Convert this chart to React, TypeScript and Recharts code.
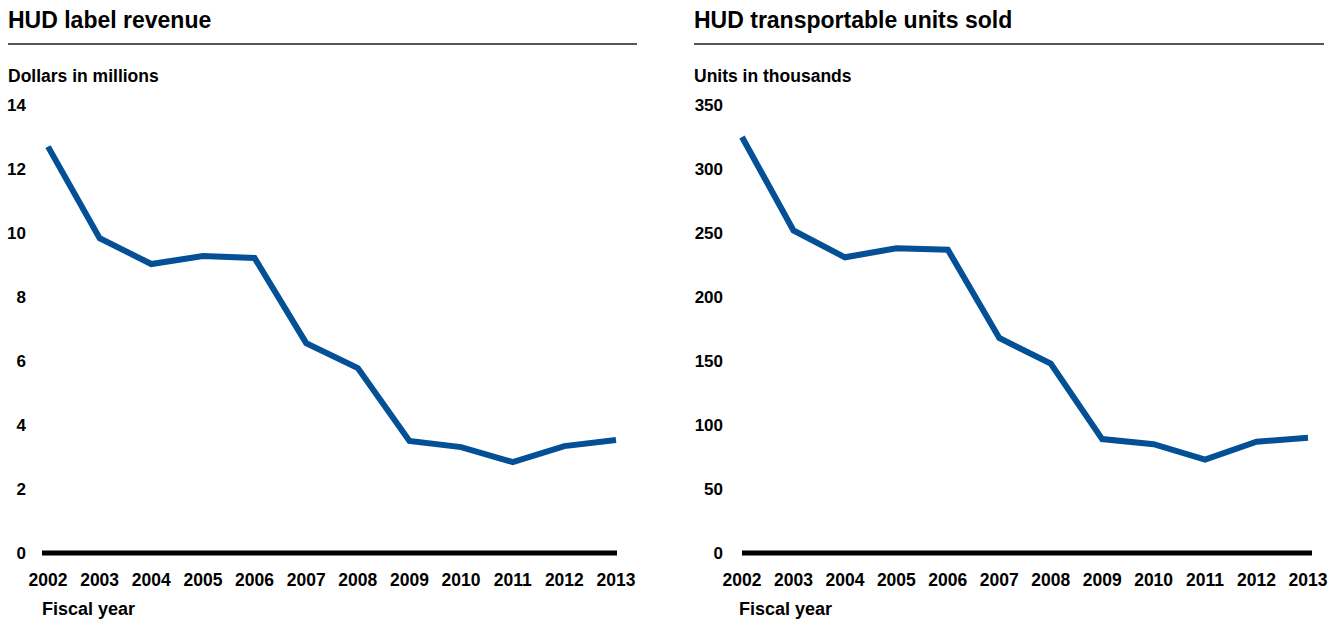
import { LineChart, Line, XAxis, YAxis } from "recharts";

// Exercícios fiscais comuns aos dois gráficos
const YEARS = ["2002", "2003", "2004", "2005", "2006", "2007", "2008", "2009", "2010", "2011", "2012", "2013"];

// Receita das etiquetas HUD (milhões de dólares)
const REVENUE = [12.7, 9.84, 9.03, 9.28, 9.22, 6.56, 5.78, 3.5, 3.31, 2.84, 3.34, 3.53];
const REVENUE_TICKS = [0, 2, 4, 6, 8, 10, 12, 14];

// Unidades transportáveis vendidas (milhares)
const UNITS = [325, 252, 231, 238, 237, 168, 148, 89, 85, 73, 87, 90];
const UNITS_TICKS = [0, 50, 100, 150, 200, 250, 300, 350];

const FONT = '"Liberation Sans", Arial, Helvetica, sans-serif';
const LINE_COLOR = "#045096";

const revenueData = YEARS.map((year, i) => ({ year, value: REVENUE[i] }));
const unitsData = YEARS.map((year, i) => ({ year, value: UNITS[i] }));

interface PanelProps {
  left: number; // posição do painel na página
  width: number;
  titleX: number;
  ruleWidth: number;
  title: string;
  unit: string;
  fiscalLabel: string;
  fiscalX: number;
  data: { year: string; value: number }[];
  ticks: number[];
  yAxisWidth: number;
  labelX: number; // alinhamento à direita das etiquetas do eixo Y
  rightMargin: number;
  padLeft: number;
  padRight: number;
}

function Panel(p: PanelProps) {
  const text = { position: "absolute" as const, fontFamily: FONT, fontWeight: 700, color: "#000", lineHeight: 1, whiteSpace: "nowrap" as const };
  return (
    <div style={{ position: "absolute", left: p.left, top: 0, width: p.width, height: 621 }}>
      <div style={{ ...text, left: p.titleX, top: 9, fontSize: 23 }}>{p.title}</div>
      <div style={{ position: "absolute", left: p.titleX, top: 43, width: p.ruleWidth, height: 2, background: "#555" }} />
      <div style={{ ...text, left: p.titleX, top: 68, fontSize: 17.5 }}>{p.unit}</div>
      <div style={{ ...text, left: p.fiscalX, top: 600, fontSize: 18 }}>{p.fiscalLabel}</div>
      <LineChart
        width={p.width}
        height={621}
        data={p.data}
        margin={{ top: 105, right: p.rightMargin, left: 0, bottom: 0 }}
        style={{ position: "absolute", left: 0, top: 0 }}
      >
        <XAxis
          dataKey="year"
          height={68}
          interval={0}
          padding={{ left: p.padLeft, right: p.padRight }}
          axisLine={{ stroke: "#000", strokeWidth: 5 }}
          tickLine={false}
          tick={(t: any) => (
            <text x={t.x} y={580} dy="0.35em" textAnchor="middle" fontFamily={FONT} fontWeight={700} fontSize={17.5} fill="#000">
              {t.payload.value}
            </text>
          )}
        />
        <YAxis
          width={p.yAxisWidth}
          domain={[0, p.ticks[p.ticks.length - 1]]}
          ticks={p.ticks}
          interval={0}
          axisLine={false}
          tickLine={false}
          tick={(t: any) => (
            <text x={p.labelX} y={t.y} dy="0.35em" textAnchor="end" fontFamily={FONT} fontWeight={700} fontSize={17} fill="#000">
              {t.payload.value}
            </text>
          )}
        />
        <Line
          type="linear"
          dataKey="value"
          stroke={LINE_COLOR}
          strokeWidth={6}
          dot={false}
          activeDot={false}
          isAnimationActive={false}
        />
      </LineChart>
    </div>
  );
}

export default function App() {
  return (
    <div style={{ position: "absolute", left: 0, top: 0, width: 1339, height: 621, background: "#fff", overflow: "hidden" }}>
      <Panel
        left={0}
        width={669}
        titleX={8}
        ruleWidth={629}
        title="HUD label revenue"
        unit="Dollars in millions"
        fiscalLabel="Fiscal year"
        fiscalX={42}
        data={revenueData}
        ticks={REVENUE_TICKS}
        yAxisWidth={42}
        labelX={26}
        rightMargin={52}
        padLeft={6}
        padRight={1}
      />
      <Panel
        left={669}
        width={670}
        titleX={25}
        ruleWidth={630}
        title="HUD transportable units sold"
        unit="Units in thousands"
        fiscalLabel="Fiscal year"
        fiscalX={70}
        data={unitsData}
        ticks={UNITS_TICKS}
        yAxisWidth={73}
        labelX={54}
        rightMargin={27}
        padLeft={0}
        padRight={4}
      />
    </div>
  );
}
